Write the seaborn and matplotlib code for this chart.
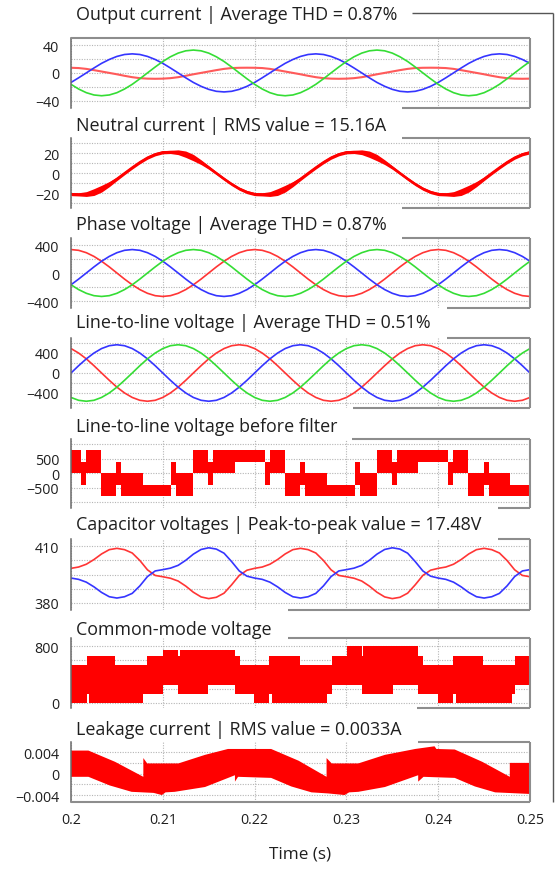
import matplotlib
matplotlib.use("Agg")
import matplotlib.pyplot as plt
from matplotlib.lines import Line2D
import numpy as np
import seaborn as sns

# ---------------- data ----------------
TIME = [0.2, 0.20083, 0.20167, 0.2025, 0.20333, 0.20417, 0.205, 0.20583, 0.20667, 0.2075, 0.20833, 0.20917,
        0.21, 0.21083, 0.21167, 0.2125, 0.21333, 0.21417, 0.215, 0.21583, 0.21667, 0.2175, 0.21833, 0.21917,
        0.22, 0.22083, 0.22167, 0.2225, 0.22333, 0.22417, 0.225, 0.22583, 0.22667, 0.2275, 0.22833, 0.22917,
        0.23, 0.23083, 0.23167, 0.2325, 0.23333, 0.23417, 0.235, 0.23583, 0.23667, 0.2375, 0.23833, 0.23917,
        0.24, 0.24083, 0.24167, 0.2425, 0.24333, 0.24417, 0.245, 0.24583, 0.24667, 0.2475, 0.24833, 0.24917, 0.25]

# Output current (A)
I_RED = [7.4, 7.0, 5.8, 4.0, 2.0, 0, -2.0, -4.2, -6.2, -7.6, -8.3, -8.5, -8.3, -7.6, -6.2, -4.2, -2.0, 0, 2.0, 4.0, 5.8, 7.0, 7.4, 7.5,
         7.4, 7.0, 5.8, 4.0, 2.0, 0, -2.0, -4.2, -6.2, -7.6, -8.3, -8.5, -8.3, -7.6, -6.2, -4.2, -2.0, 0, 2.0, 4.0, 5.8, 7.0, 7.4, 7.5,
         7.4, 7.0, 5.8, 4.0, 2.0, 0, -2.0, -4.2, -6.2, -7.6, -8.3, -8.5, -8.3]
I_BLUE = [-13.8, -7.1, 0, 7.1, 13.8, 19.4, 23.8, 26.6, 27.5, 26.6, 23.8, 19.4, 13.8, 7.1, 0, -7.1, -13.8, -19.4, -23.8, -26.6, -27.5, -26.6, -23.8, -19.4,
          -13.8, -7.1, 0, 7.1, 13.8, 19.4, 23.8, 26.6, 27.5, 26.6, 23.8, 19.4, 13.8, 7.1, 0, -7.1, -13.8, -19.4, -23.8, -26.6, -27.5, -26.6, -23.8, -19.4,
          -13.8, -7.1, 0, 7.1, 13.8, 19.4, 23.8, 26.6, 27.5, 26.6, 23.8, 19.4, 13.8]
I_GREEN = [-16.5, -23.3, -28.6, -31.9, -33, -31.9, -28.6, -23.3, -16.5, -8.5, 0, 8.5, 16.5, 23.3, 28.6, 31.9, 33, 31.9, 28.6, 23.3, 16.5, 8.5, 0, -8.5,
           -16.5, -23.3, -28.6, -31.9, -33, -31.9, -28.6, -23.3, -16.5, -8.5, 0, 8.5, 16.5, 23.3, 28.6, 31.9, 33, 31.9, 28.6, 23.3, 16.5, 8.5, 0, -8.5,
           -16.5, -23.3, -28.6, -31.9, -33, -31.9, -28.6, -23.3, -16.5, -8.5, 0, 8.5, 16.5]

# Neutral current (A): centre of the band and its half thickness
N_MID = [-21, -21.3, -21, -19, -15.6, -11, -5.7, 0, 5.7, 11, 15.6, 19, 21, 21.3, 21, 19, 15.6, 11, 5.7, 0, -5.7, -11, -15.6, -19,
         -21, -21.3, -21, -19, -15.6, -11, -5.7, 0, 5.7, 11, 15.6, 19, 21, 21.3, 21, 19, 15.6, 11, 5.7, 0, -5.7, -11, -15.6, -19,
         -21, -21.3, -21, -19, -15.6, -11, -5.7, 0, 5.7, 11, 15.6, 19, 21]
N_HALF = [1.6, 1.6, 2.4, 3.4, 3.4, 2.6, 1.8, 1.6, 1.6, 1.6, 1.6, 1.6, 1.6, 1.6, 2.4, 3.2, 3.2, 2.4, 1.8, 1.6, 1.6, 1.6, 1.6, 1.6,
          1.6, 1.6, 2.4, 3.4, 3.4, 2.6, 1.8, 1.6, 1.6, 1.6, 1.6, 1.6, 1.6, 1.6, 2.4, 3.2, 3.2, 2.4, 1.8, 1.6, 1.6, 1.6, 1.6, 1.6,
          1.6, 1.6, 2.4, 3.4, 3.4, 2.6, 1.8, 1.6, 1.6, 1.6, 1.6, 1.6, 1.6]

# Phase voltage (V)
PV_RED = [335, 324, 290, 237, 168, 87, 0, -87, -168, -237, -290, -324, -335, -324, -290, -237, -168, -87, 0, 87, 168, 237, 290, 324,
          335, 324, 290, 237, 168, 87, 0, -87, -168, -237, -290, -324, -335, -324, -290, -237, -168, -87, 0, 87, 168, 237, 290, 324,
          335, 324, 290, 237, 168, 87, 0, -87, -168, -237, -290, -324, -335]
PV_BLUE = [-168, -87, 0, 87, 168, 237, 290, 324, 335, 324, 290, 237, 168, 87, 0, -87, -168, -237, -290, -324, -335, -324, -290, -237,
           -168, -87, 0, 87, 168, 237, 290, 324, 335, 324, 290, 237, 168, 87, 0, -87, -168, -237, -290, -324, -335, -324, -290, -237,
           -168, -87, 0, 87, 168, 237, 290, 324, 335, 324, 290, 237, 168]
PV_GREEN = [-168, -237, -290, -324, -335, -324, -290, -237, -168, -87, 0, 87, 168, 237, 290, 324, 335, 324, 290, 237, 168, 87, 0, -87,
            -168, -237, -290, -324, -335, -324, -290, -237, -168, -87, 0, 87, 168, 237, 290, 324, 335, 324, 290, 237, 168, 87, 0, -87,
            -168, -237, -290, -324, -335, -324, -290, -237, -168, -87, 0, 87, 168]

# Line-to-line voltage (V)
LL_RED = [489, 399, 283, 146, 0, -146, -283, -399, -489, -546, -565, -546, -489, -399, -283, -146, 0, 146, 283, 399, 489, 546, 565, 546,
          489, 399, 283, 146, 0, -146, -283, -399, -489, -546, -565, -546, -489, -399, -283, -146, 0, 146, 283, 399, 489, 546, 565, 546,
          489, 399, 283, 146, 0, -146, -283, -399, -489, -546, -565, -546, -489]
LL_BLUE = [0, 146, 283, 399, 489, 546, 565, 546, 489, 399, 283, 146, 0, -146, -283, -399, -489, -546, -565, -546, -489, -399, -283, -146,
           0, 146, 283, 399, 489, 546, 565, 546, 489, 399, 283, 146, 0, -146, -283, -399, -489, -546, -565, -546, -489, -399, -283, -146,
           0, 146, 283, 399, 489, 546, 565, 546, 489, 399, 283, 146, 0]
LL_GREEN = [-489, -546, -565, -546, -489, -399, -283, -146, 0, 146, 283, 399, 489, 546, 565, 546, 489, 399, 283, 146, 0, -146, -283, -399,
            -489, -546, -565, -546, -489, -399, -283, -146, 0, 146, 283, 399, 489, 546, 565, 546, 489, 399, 283, 146, 0, -146, -283, -399,
            -489, -546, -565, -546, -489, -399, -283, -146, 0, 146, 283, 399, 489]

# Line-to-line voltage before filter: switching band (ms after 0.2 s, upper level, lower level)
LLF_MS = [0.00, 1.13, 1.67, 3.30, 4.94, 5.48, 7.84, 10.93, 11.47, 13.30, 14.95, 15.50, 17.86, 21.13, 21.67, 23.30,
          24.94, 25.48, 27.84, 30.93, 31.47, 33.28, 34.92, 35.46, 37.82, 41.09, 41.63, 43.30, 44.94, 45.48, 47.84, 50.00]
LLF_UP = [800, 400, 800, 0, 400, 0, -400, 400, 0, 800, 400, 800, 800, 400, 800, 0,
          400, 0, -400, 400, 0, 800, 400, 800, 800, 400, 800, 0, 400, 0, -400, -400]
LLF_LO = [0, -400, 0, -800, -400, -800, -800, -400, -800, 0, -400, 0, 400, -400, 0, -800,
          -400, -800, -800, -400, -800, 0, -400, 0, 400, -400, 0, -800, -400, -800, -800, -800]

# Capacitor voltages (V)
CAP_RED = [398.3, 399.0, 400.5, 403.0, 406.0, 408.3, 409.0, 408.3, 406.5, 402.5, 397.5, 394.5, 393.8, 393.0, 391.5, 388.8, 385.5, 383.0, 382.1, 382.8, 385.0, 389.5, 394.5, 397.3,
           398.3, 399.0, 400.5, 403.0, 406.0, 408.3, 409.0, 408.3, 406.5, 402.5, 397.5, 394.5, 393.8, 393.0, 391.5, 388.8, 385.5, 383.0, 382.1, 382.8, 385.0, 389.5, 394.5, 397.3,
           398.3, 399.0, 400.5, 403.0, 406.0, 408.3, 409.0, 408.3, 406.5, 402.5, 397.5, 394.5, 393.8]
CAP_BLUE = [393.1, 392.4, 390.9, 388.4, 385.4, 383.1, 382.4, 383.1, 384.9, 388.9, 393.9, 396.9, 397.6, 398.4, 399.9, 402.6, 405.9, 408.4, 409.3, 408.6, 406.4, 401.9, 396.9, 394.1,
            393.1, 392.4, 390.9, 388.4, 385.4, 383.1, 382.4, 383.1, 384.9, 388.9, 393.9, 396.9, 397.6, 398.4, 399.9, 402.6, 405.9, 408.4, 409.3, 408.6, 406.4, 401.9, 396.9, 394.1,
            393.1, 392.4, 390.9, 388.4, 385.4, 383.1, 382.4, 383.1, 384.9, 388.9, 393.9, 396.9, 397.6]

# Common-mode voltage: switching band (ms after 0.2 s, upper level, lower level)
CM_MS = [0.00, 1.71, 1.96, 4.79, 7.88, 8.24, 10.05, 11.69, 11.87, 14.95, 17.86, 18.40, 19.96, 21.56, 21.85, 24.94,
         27.84, 28.38, 30.02, 31.65, 31.83, 35.10, 37.82, 38.37, 40.00, 41.63, 41.99, 44.90, 47.99, 48.35, 50.00]
CM_UP = [532, 664, 664, 532, 532, 664, 744, 664, 744, 744, 664, 532, 532, 664, 664, 532,
         532, 664, 800, 664, 800, 800, 664, 532, 532, 664, 664, 532, 532, 664, 664]
CM_LO = [0, 118, 0, 0, 118, 118, 249, 118, 118, 249, 118, 118, 0, 118, 0, 0,
         118, 249, 249, 118, 118, 249, 118, 118, 0, 118, 0, 0, 118, 249, 249]

# Leakage current band outline (ms after 0.2 s, A)
LK_UP_MS = [0, 1.9, 4.8, 7.88, 7.88, 8.3, 11.7, 14.6, 17.1, 21.8, 24.8, 27.84, 27.84, 28.4, 31.3, 34.2, 37.5,
            39.6, 39.8, 41.8, 44.8, 47.8, 47.8, 50]
LK_UP = [0.0043, 0.0043, 0.0022, -0.0006, 0.0029, 0.0019, 0.0019, 0.0035, 0.0046, 0.0046, 0.0024, -0.0006, 0.0029, 0.0019,
         0.0019, 0.0035, 0.0046, 0.0051, 0.0046, 0.0045, 0.0022, -0.0006, 0.0020, 0.0020]
LK_LO_MS = [0, 1.9, 4.2, 6.6, 9.0, 9.9, 10.3, 11.3, 14.6, 17.86, 17.86, 18.2, 21.8, 24.0, 26.2, 28.0, 29.8, 30.3,
            31.3, 34.2, 37.82, 37.82, 38.4, 41.8, 44.0, 46.2, 50]
LK_LO = [-0.0006, -0.0006, -0.0022, -0.0034, -0.0036, -0.0040, -0.0035, -0.0034, -0.0025, -0.0003, -0.0015, -0.0006,
         -0.0008, -0.0024, -0.0035, -0.0037, -0.0040, -0.0035, -0.0034, -0.0025, -0.0003, -0.0015, -0.0006, -0.0008,
         -0.0024, -0.0035, -0.0038]

TITLES = ["Output current | Average THD = 0.87%",
          "Neutral current | RMS value = 15.16A",
          "Phase voltage | Average THD = 0.87%",
          "Line-to-line voltage | Average THD = 0.51%",
          "Line-to-line voltage before filter",
          "Capacitor voltages | Peak-to-peak value = 17.48V",
          "Common-mode voltage",
          "Leakage current | RMS value = 0.0033A"]
X_TICKS = [0.2, 0.21, 0.22, 0.23, 0.24, 0.25]
X_TICK_LABELS = ["0.2", "0.21", "0.22", "0.23", "0.24", "0.25"]
X_LABEL = "Time (s)"

# ---------------- styling / layout ----------------
sns.set_theme(style="white")
plt.rcParams["font.family"] = ["Open Sans", "DejaVu Sans"]

W, H = 555, 879
fig = plt.figure(figsize=(W / 100, H / 100), dpi=100)
fig.patch.set_facecolor("white")


def fx(x):
    return x / W


def fy(y):
    return 1 - y / H


X_LEFT, X_RIGHT = 71, 530
FRAME_C = "#8d8d8d"
GRID_C = "#b5b5b5"
TEXT_C = "#1f1f1f"
RED, BLUE, GREEN, FILL_RED = "#ff3535", "#3535ff", "#35dd35", "#ff0000"

# (frame top, frame bottom, top-edge start x, bottom-edge start x, title y, ylim, yticks, ylabels)
LAYOUT = [
    (39.3, 108.5, 71, 401.7, 15, (-50, 50), [-40, -20, 0, 20, 40], ["\u221240", "", "0", "", "40"]),
    (139.3, 209, 401.7, 401.7, 126, (-35, 35), [-30, -20, -10, 0, 10, 20, 30], ["", "\u221220", "", "0", "", "20", ""]),
    (239, 309, 401.7, 446.7, 225, (-500, 500), [-400, -200, 0, 200, 400], ["\u2212400", "", "0", "", "400"]),
    (339, 409, 446.7, 353, 323.5, (-700, 700), [-600, -400, -200, 0, 200, 400, 600], ["", "\u2212400", "", "0", "", "400", ""]),
    (439.7, 509, 351.7, 498.3, 426.5, (-1200, 1200), [-1000, -500, 0, 500, 1000], ["", "\u2212500", "0", "500", ""]),
    (540, 611, 498, 288, 525, (376, 414), [380, 387.5, 395, 402.5, 410], ["380", "", "", "", "410"]),
    (639.3, 709.3, 287.7, 416.7, 630, (-80, 910), [0, 200, 400, 600, 800], ["0", "", "", "", "800"]),
    (743, 803, 418, 71, 730, (-0.0053, 0.0059), [-0.004, -0.002, 0, 0.002, 0.004], ["\u22120.004", "", "0", "", "0.004"]),
]


def add_line(xs, ys, color=FRAME_C, lw=1.5):
    fig.add_artist(Line2D([fx(v) for v in xs], [fy(v) for v in ys], transform=fig.transFigure,
                          color=color, lw=lw, solid_capstyle="butt"))


axes = []
for i, (top, bot, tstart, bstart, ty, ylim, yt, yl) in enumerate(LAYOUT):
    ax = fig.add_axes([fx(X_LEFT), fy(bot), (X_RIGHT - X_LEFT) / W, (bot - top) / H])
    ax.set_facecolor("white")
    for s in ["top", "right", "bottom"]:
        ax.spines[s].set_visible(False)
    ax.spines["left"].set_color("#6a6a6a")
    ax.spines["left"].set_linewidth(1.1)
    ax.set_xlim(0.2, 0.25)
    ax.set_ylim(*ylim)
    ax.set_xticks(X_TICKS)
    ax.set_yticks(yt)
    ax.set_yticklabels(yl)
    ax.set_axisbelow(True)
    ax.grid(True, color=GRID_C, linestyle=(0, (1, 1.3)), linewidth=0.8)
    ax.tick_params(axis="both", length=0, labelsize=10.3, labelcolor=TEXT_C)
    ax.tick_params(axis="y", pad=8.5)
    if i == len(LAYOUT) - 1:
        ax.set_xticklabels(X_TICK_LABELS)
        ax.tick_params(axis="x", pad=7)
    else:
        ax.set_xticklabels([])
    # partial frame (the parts not hidden by the next title)
    add_line([tstart, X_RIGHT], [top, top])
    add_line([bstart, X_RIGHT], [bot, bot])
    add_line([X_RIGHT, X_RIGHT], [top, bot])
    fig.text(fx(76), fy(ty), TITLES[i], ha="left", va="center", fontsize=12.9, color=TEXT_C)
    axes.append(ax)


def lp(ax, y, color, lw=1.2):
    sns.lineplot(x=TIME, y=y, ax=ax, color=color, linewidth=lw, estimator=None, sort=False, legend=False)
    ax.set_xlabel("")
    ax.set_ylabel("")


# 1 output current
lp(axes[0], I_RED, "#ff5a5a", 1.5)
lp(axes[0], I_BLUE, BLUE)
lp(axes[0], I_GREEN, GREEN)

# 2 neutral current
n_mid = np.array(N_MID)
n_half = np.array(N_HALF)
axes[1].fill_between(TIME, n_mid - n_half, n_mid + n_half, color=FILL_RED, linewidth=0)
lp(axes[1], N_MID, FILL_RED, 1.6)

# 3 phase voltage
lp(axes[2], PV_RED, RED)
lp(axes[2], PV_BLUE, BLUE)
lp(axes[2], PV_GREEN, GREEN)

# 4 line-to-line voltage
lp(axes[3], LL_RED, RED)
lp(axes[3], LL_BLUE, BLUE)
lp(axes[3], LL_GREEN, GREEN)

# 5 line-to-line voltage before filter
t5 = 0.2 + np.array(LLF_MS) / 1000
axes[4].fill_between(t5, LLF_LO, LLF_UP, step="post", color=FILL_RED, linewidth=0)

# 6 capacitor voltages
lp(axes[5], CAP_RED, RED)
lp(axes[5], CAP_BLUE, BLUE)

# 7 common-mode voltage
t7 = 0.2 + np.array(CM_MS) / 1000
axes[6].fill_between(t7, CM_LO, CM_UP, step="post", color=FILL_RED, linewidth=0)

# 8 leakage current
tu = 0.2 + np.array(LK_UP_MS) / 1000
tl = 0.2 + np.array(LK_LO_MS) / 1000
axes[7].fill(np.concatenate([tu, tl[::-1]]), np.concatenate([LK_UP, LK_LO[::-1]]),
             color=FILL_RED, linewidth=0)

# outer bracket line from the first title
add_line([412, 553], [14, 14], color="#555555", lw=1.0)
add_line([553, 553], [14, 803], color="#555555", lw=1.0)

fig.text(fx(300), fy(855), X_LABEL, ha="center", va="center", fontsize=12.3, color=TEXT_C)

fig.savefig("out.png", dpi=100, facecolor="white")
